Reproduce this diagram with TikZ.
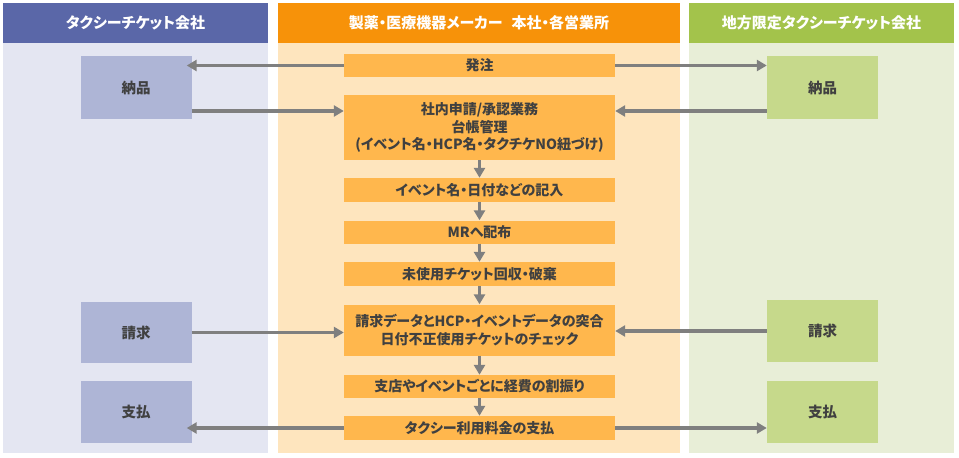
\documentclass[tikz,border=0pt]{standalone}
\usepackage{fontspec}
\setmainfont{Noto Sans CJK JP}[RawFeature=+palt]
\usetikzlibrary{arrows.meta}
\definecolor{hdrblue}{HTML}{5A67A8}
\definecolor{laneblue}{HTML}{E4E6F2}
\definecolor{boxblue}{HTML}{AEB5D6}
\definecolor{hdrorange}{HTML}{F79209}
\definecolor{laneorange}{HTML}{FEE5BE}
\definecolor{boxorange}{HTML}{FFB74D}
\definecolor{hdrgreen}{HTML}{A3C34B}
\definecolor{lanegreen}{HTML}{E8EED7}
\definecolor{boxgreen}{HTML}{C6D98B}
\definecolor{arrgray}{HTML}{7F7F7F}
\definecolor{txtgray}{HTML}{404040}
\tikzset{head/.style={text=white,font=\fontsize{15}{17}\selectfont\bfseries,minimum height=40,inner sep=0}}
\tikzset{lane/.style={minimum height=410,inner sep=0}}
\tikzset{party/.style={text=txtgray,font=\fontsize{14.5}{17}\selectfont\bfseries,minimum width=111,inner sep=0}}
\tikzset{task/.style={fill=boxorange,text=txtgray,font=\fontsize{14}{17.5}\selectfont\bfseries,align=center,minimum width=271,inner sep=0}}
\tikzset{flow/.style={draw=arrgray,line width=3.5pt,-{Triangle[length=10pt,width=11pt]}}}

\begin{document}
\begin{tikzpicture}[x=1pt,y=-1pt]
  \useasboundingbox (0,0) rectangle (959,458);
  % three lanes
  \node[lane,fill=laneblue,minimum width=265] (LL) at (135.5,248) {};
  \node[lane,fill=laneorange,minimum width=402] (LM) at (479,248) {};
  \node[lane,fill=lanegreen,minimum width=265] (LR) at (821.5,248) {};
  \node[head,fill=hdrblue,minimum width=265] (HL) at (135.5,23) {タクシーチケット会社};
  \node[head,fill=hdrorange,minimum width=402] (HM) at (479,23) {製薬・医療機器メーカー\hspace{0.6em}本社・各営業所};
  \node[head,fill=hdrgreen,minimum width=265] (HR) at (821.5,23) {地方限定タクシーチケット会社};

  % taxi company
  \node[party,fill=boxblue,minimum height=63] (L1) at (136,87.5) {納品};
  \node[party,fill=boxblue,minimum height=61] (L2) at (136,332.5) {請求};
  \node[party,fill=boxblue,minimum height=62] (L3) at (136,412) {支払};

  % local taxi company
  \node[party,fill=boxgreen,minimum height=63] (R1) at (822.5,87.5) {納品};
  \node[party,fill=boxgreen,minimum height=62] (R2) at (822.5,331) {請求};
  \node[party,fill=boxgreen,minimum height=62] (R3) at (822.5,412) {支払};

  % maker
  \node[task,minimum height=23] (M1) at (479.5,65.5) {発注};
  \node[task,minimum height=65] (M2) at (479.5,127.5) {社内申請/承認業務\\台帳管理\\(イベント名・HCP名・タクチケNO紐づけ)};
  \node[task,minimum height=24] (M3) at (479.5,190) {イベント名・日付などの記入};
  \node[task,minimum height=23] (M4) at (479.5,232) {MRへ配布};
  \node[task,minimum height=24] (M5) at (479.5,274) {未使用チケット回収・破棄};
  \node[task,minimum height=51] (M6) at (479.5,330) {請求データとHCP・イベントデータの突合\\日付不正使用チケットのチェック};
  \node[task,minimum height=23] (M7) at (479.5,386.5) {支店やイベントごとに経費の割振り};
  \node[task,minimum height=24] (M8) at (479.5,428) {タクシー利用料金の支払};

  \draw[flow,shorten >=-5pt] (M1.west) -- (L1.east |- M1.west);
  \draw[flow] (M1.east) -- (R1.west |- M1.east);
  \draw[flow] ([yshift=-23.5pt]L1.east) -- ([yshift=16.5pt]M2.west);
  \draw[flow] ([yshift=-23.5pt]R1.west) -- ([yshift=16.5pt]M2.east);
  \draw[flow] (M2) -- (M3);
  \draw[flow] (M3) -- (M4);
  \draw[flow] (M4) -- (M5);
  \draw[flow] (M5) -- (M6);
  \draw[flow] (L2.east) -- (M6.west |- L2.east);
  \draw[flow] (R2.west) -- (M6.east |- R2.west);
  \draw[flow] (M6) -- (M7);
  \draw[flow] (M7) -- (M8);
  \draw[flow,shorten >=-5pt] (M8.west) -- (L3.east |- M8.west);
  \draw[flow] (M8.east) -- (R3.west |- M8.east);
\end{tikzpicture}
\end{document}
